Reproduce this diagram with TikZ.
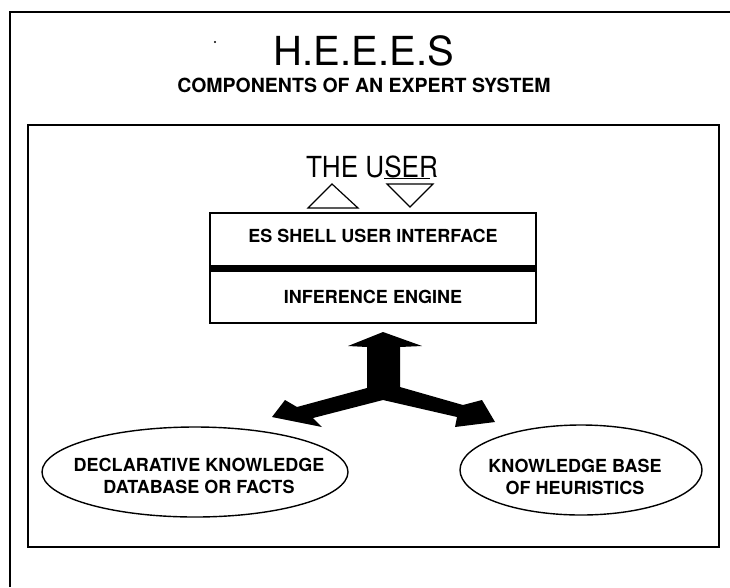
\documentclass[tikz,border=0pt]{standalone}
\usepackage{fontspec}
\setmainfont{TeX Gyre Heros}
\usetikzlibrary{shapes.geometric}
\begin{document}
\begin{tikzpicture}[x=1pt,y=-1pt,
  frame/.style={line width=2pt},
  lbl/.style={font=\bfseries\fontsize{18}{22}\selectfont, inner sep=0pt, align=center},
  oval/.style={draw, line width=1.4pt, ellipse, inner sep=0pt},
  tri/.style={line width=1.2pt, line join=miter}]
\useasboundingbox (0,0) rectangle (730,587);
% outer frame (open to right and bottom)
\draw[frame] (10,587) -- (10,12) -- (730,12);
% speck
\fill (215,42) circle (1.1);
% titles
\node[inner sep=0pt, anchor=base, font=\fontsize{40}{40}\selectfont] (title) at (364,65) {H.E.E.E.S};
\node[inner sep=0pt, anchor=base, font=\bfseries\fontsize{19.5}{19.5}\selectfont] (sub) at (364,92) {COMPONENTS OF AN EXPERT SYSTEM};
% inner frame
\draw[frame] (28,125) rectangle (719,547);
% the user
\node[inner sep=0pt, anchor=base, font=\fontsize{29}{29}\selectfont, xscale=0.9] (user) at (372,177) {THE U\rlap{\rule[-2pt]{51pt}{1.3pt}}SER};
% triangles
\draw[tri] (308,208) -- (332,184) -- (358,208) -- cycle;
\draw[tri] (387,184) -- (433,184) -- (410,207) -- cycle;
% box
\draw[line width=1.4pt] (210,213) rectangle (536,323);
\fill (210,265) rectangle (536,272);
\node[lbl] (shell) at (373,236) {ES SHELL USER INTERFACE};
\node[lbl] (inf) at (373,297) {INFERENCE ENGINE};
% three-way arrow
\fill (383,332) -- (422,346) -- (400,347) -- (400,387) -- (463,405) -- (482,400)
  -- (495,422) -- (455,427) -- (457,417) -- (383,400) -- (313,418) -- (322,427)
  -- (272,417) -- (285,400) -- (297,407) -- (367,388) -- (367,347) -- (348,346) -- cycle;
% ellipses
\node[oval, minimum width=306pt, minimum height=90pt] (decl) at (195,472) {};
\node[lbl] at (199,476) {DECLARATIVE KNOWLEDGE\\DATABASE OR FACTS};
\node[oval, minimum width=242pt, minimum height=90pt] (heur) at (581,470) {};
\node[lbl] at (575,477) {KNOWLEDGE BASE\\OF HEURISTICS};
\end{tikzpicture}
\end{document}
